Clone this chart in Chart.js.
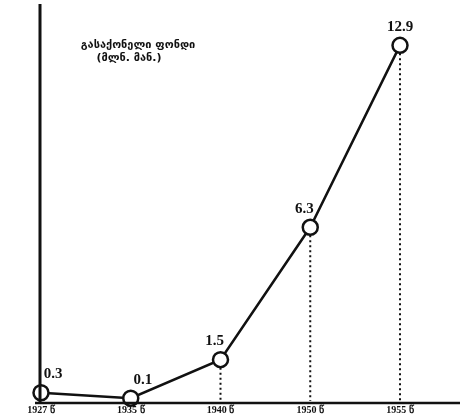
<!DOCTYPE html>
<html>
<head>
<meta charset="utf-8">
<script src="https://cdn.jsdelivr.net/npm/chart.js@4/dist/chart.umd.min.js"></script>
<style>
html,body{margin:0;padding:0;background:#fff;}
#wrap{width:462px;height:417px;}
</style>
</head>
<body>
<div id="wrap"><canvas id="myChart"></canvas></div>
<script>
'use strict'
let years=['1927 წ','1935 წ','1940 წ','1950 წ','1955 წ'];
let values=[0.3,0.1,1.5,6.3,12.9];
let titleLines=['გასაქონელი ფონდი','(მლნ. მან.)'];

// axis lines, dotted drops, value labels and the title
let drawExtras={
    id:'drawExtras',
    afterDatasetsDraw(chart){
        let ctx=chart.ctx;
        let area=chart.chartArea;
        let yScale=chart.scales.y;
        let base=yScale.getPixelForValue(0);
        let pts=chart.getDatasetMeta(0).data;
        ctx.save();
        // dotted drops
        ctx.strokeStyle='#111';
        ctx.lineWidth=2;
        ctx.setLineDash([2,3]);
        for(let i=0;i<pts.length;i++){
            if(pts[i].y<base-12){
                ctx.beginPath();
                ctx.moveTo(pts[i].x,pts[i].y+8);
                ctx.lineTo(pts[i].x,base);
                ctx.stroke();
            }
        }
        ctx.setLineDash([]);
        // axes
        ctx.lineWidth=3;
        ctx.beginPath();
        ctx.moveTo(area.left-1,4);
        ctx.lineTo(area.left-1,base+2);
        ctx.stroke();
        ctx.lineWidth=2.5;
        ctx.beginPath();
        ctx.moveTo(area.left-6,base+2);
        ctx.lineTo(chart.width-2,base+2);
        ctx.stroke();
        // value labels
        ctx.fillStyle='#111';
        ctx.font='bold 15px "Liberation Serif"';
        ctx.textAlign='center';
        ctx.textBaseline='bottom';
        for(let i=0;i<pts.length;i++){
            let dx=i<2?12:-6;
            if(i==pts.length-1) dx=0;
            ctx.fillText(String(values[i]),pts[i].x+dx,pts[i].y-11);
        }
        // title
        ctx.font='bold 11px "DejaVu Sans"';
        ctx.textBaseline='middle';
        ctx.fillText(titleLines[0],area.left+97,45);
        ctx.fillText(titleLines[1],area.left+88,58);
        ctx.restore();
    }
};

let ctx=document.getElementById('myChart').getContext('2d');
let myChart=new Chart(ctx,{
    type:'line',
    data:{
        labels:years,
        datasets:[{
            data:values,
            borderColor:'#111',
            borderWidth:2.5,
            pointRadius:7.5,
            pointBorderWidth:2.5,
            pointBackgroundColor:'#fff',
            pointBorderColor:'#111',
            tension:0,
            clip:false
        }]
    },
    options:{
        responsive:true,
        maintainAspectRatio:false,
        animation:false,
        layout:{padding:{left:41,right:62,top:15,bottom:-2}},
        plugins:{legend:{display:false},tooltip:{enabled:false}},
        scales:{
            x:{
                grid:{display:false,drawTicks:false},
                border:{display:false},
                ticks:{color:'#111',padding:3,maxRotation:0,font:{family:'Liberation Serif',size:10,weight:'bold'}}
            },
            y:{
                display:false,
                min:0,
                max:14
            }
        }
    },
    plugins:[drawExtras]
});
</script>
</body>
</html>
